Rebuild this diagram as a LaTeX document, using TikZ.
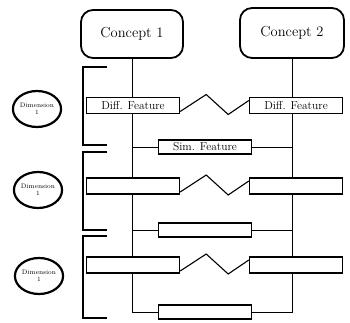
\documentclass[tikz,border=0pt]{standalone}
\usepackage{tikz}
\usetikzlibrary{shapes.geometric,backgrounds}

\tikzset{
  concept/.style={draw, line width=1.8pt, rounded corners=12pt, minimum width=102pt, minimum height=48pt, font=\fontsize{14.5}{16}\selectfont},
  feat/.style={draw, fill=white, line width=1.4pt, minimum width=93pt, minimum height=16pt, inner sep=0pt, font=\fontsize{11.5}{12}\selectfont},
  simbox/.style={feat, minimum height=14pt},
  dimen/.style={draw, ellipse, line width=2.2pt, minimum width=48pt, minimum height=36pt, inner sep=0pt, align=center, font=\fontsize{6.5}{7}\selectfont},
}

\begin{document}
\begin{tikzpicture}[x=1pt,y=-1pt,line width=1.1pt]
				\useasboundingbox (0,0) rectangle (350,323);
				\node[concept] (c1) at (132,34) {Concept 1};
				\node[concept, minimum width=104pt, minimum height=50pt] (c2) at (292,33) {Concept 2};
				
				% feature rows
				\foreach \r/\y/\sy/\dt/\st in
				{1/105.5/147/{Diff. Feature}/{Sim. Feature}, 2/186/230/{}/{}, 3/265/312/{}/{}}{
					\node[feat] (dl\r) at (133,\y) {\dt};
					\node[feat] (dr\r) at (296,\y) {\dt};
					\node[simbox] (s\r) at (205,\sy) {\st};
					\draw ([yshift=-6pt]dl\r.east) -- ++(26,-17) -- ++(22,20) -- ([yshift=5pt]dr\r.west);
				}
				
				% dimensions
				\foreach \r/\x/\y in
				{1/37/109, 2/38/190, 3/39/276}{
					\node[dimen] (e\r) at (\x,\y) {Dimension\\1};
				}
				
				% brackets
				\foreach \t/\b in
				{67/145, 152/230, 236/318}{
					\draw (107,\t) -- (83,\t) -- (83,\b) -- (107,\b);
				}
				
				\begin{scope}[on background layer]
					\draw (c1.south) -- (c1.south |- s3.west) -- (s3.west);
					\draw (c2.south) -- (c2.south |- s3.east) -- (s3.east);
					\foreach \r in {1,2}{
						\draw (c1.south |- s\r.west) -- (s\r.west);
						\draw (s\r.east) -- (c2.south |- s\r.east);
					}
				\end{scope}
			\end{tikzpicture}
\end{document}
